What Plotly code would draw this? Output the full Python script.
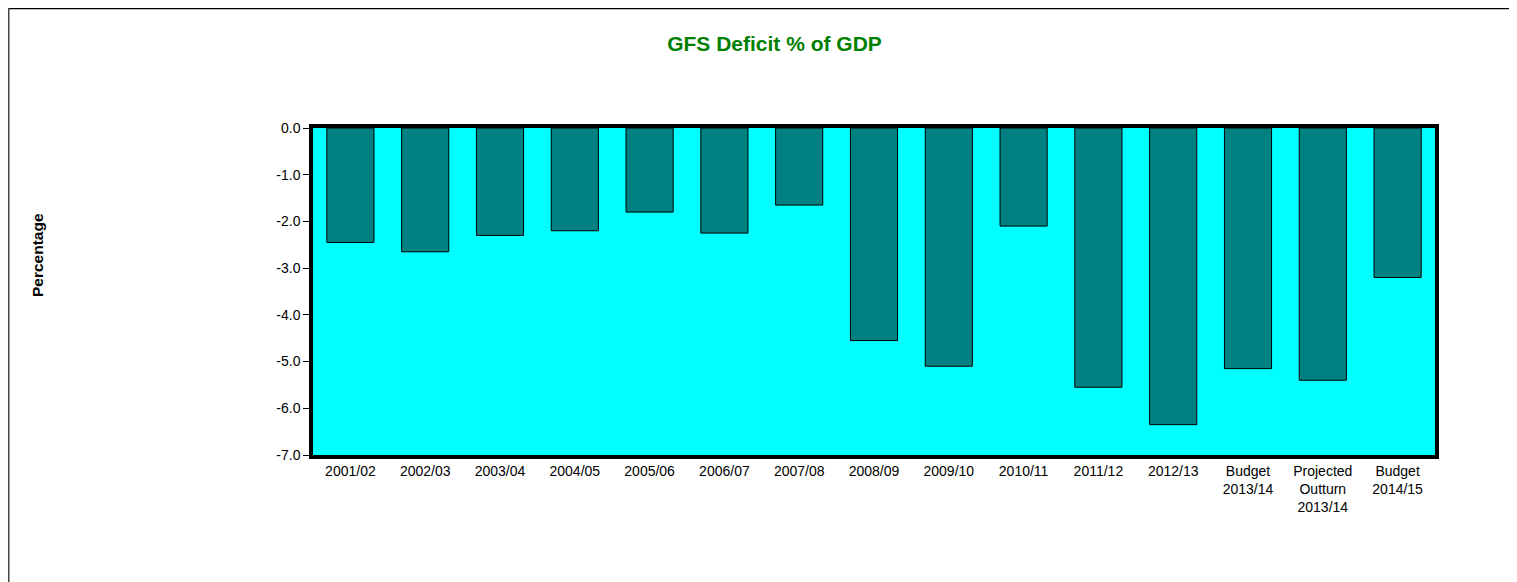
import plotly.graph_objects as go

categories = ["2001/02", "2002/03", "2003/04", "2004/05", "2005/06", "2006/07", "2007/08",
              "2008/09", "2009/10", "2010/11", "2011/12", "2012/13",
              "Budget<br>2013/14", "Projected<br>Outturn<br>2013/14", "Budget<br>2014/15"]
deficit = [-2.45, -2.65, -2.3, -2.2, -1.8, -2.25, -1.65, -4.55, -5.1, -2.1, -5.55, -6.35, -5.15, -5.4, -3.2]
y_ticks = [0, -1, -2, -3, -4, -5, -6, -7]
y_tick_labels = ["0.0", "-1.0", "-2.0", "-3.0", "-4.0", "-5.0", "-6.0", "-7.0"]

# page has an 8px body margin; figure coordinates below are page coords minus 8
W, H = 1509, 574
L, T = 305, 120
pw, ph = 1122, 327
R = W - L - pw
B = H - T - ph

def px(x):
    return (x - L) / pw

def py(y):
    return (H - B - y) / ph

FONT = "Arial, Liberation Sans, sans-serif"

fig = go.Figure()
fig.add_trace(go.Bar(
    x=categories, y=deficit,
    marker=dict(color="#008080", line=dict(color="black", width=1)),
))

fig.update_layout(
    width=W, height=H,
    margin=dict(l=L, r=R, t=T, b=B),
    paper_bgcolor="white",
    plot_bgcolor="#00FFFF",
    bargap=0.37,
    showlegend=False,
    font=dict(family=FONT, size=14, color="black"),
    title=dict(text="<b>GFS Deficit % of GDP</b>", x=766.5 / W, xanchor="center",
               y=1 - 36 / H, yanchor="middle",
               font=dict(size=21, color="#008000", family=FONT)),
    xaxis=dict(showgrid=False, ticks="", showline=True, linecolor="black", linewidth=3.5, mirror=True,
               tickfont=dict(size=14)),
    yaxis=dict(range=[-7, 0], tickvals=y_ticks, ticktext=y_tick_labels, showgrid=False, zeroline=False,
               ticks="outside", ticklen=6, tickwidth=1, tickcolor="black",
               showline=True, linecolor="black", linewidth=3.5, mirror=True,
               tickfont=dict(size=14)),
    annotations=[dict(text="<b>Percentage</b>", xref="paper", yref="paper",
                      x=px(29), y=py(247), textangle=-90, showarrow=False,
                      font=dict(size=15.5, color="black", family=FONT),
                      xanchor="center", yanchor="middle")],
    shapes=[
        dict(type="line", xref="paper", yref="paper", x0=px(0), x1=px(W + 5), y0=py(0.5), y1=py(0.5),
             line=dict(color="black", width=1.5)),
        dict(type="line", xref="paper", yref="paper", x0=px(0.75), x1=px(0.75), y0=py(0), y1=py(H + 5),
             line=dict(color="#444444", width=1.5)),
    ],
)

fig.write_html("out.html")
